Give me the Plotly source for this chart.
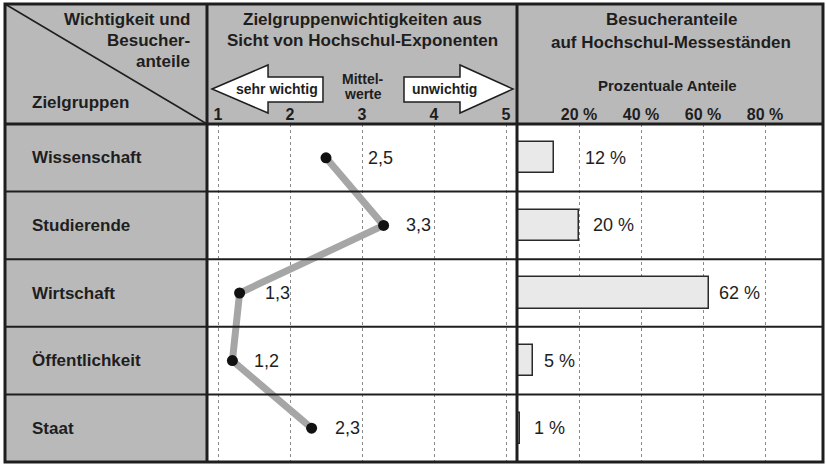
import plotly.graph_objects as go

# data
zielgruppen = ["Wissenschaft", "Studierende", "Wirtschaft", "Öffentlichkeit", "Staat"]
wichtigkeit = [2.5, 3.3, 1.3, 1.2, 2.3]
wichtigkeit_text = ["2,5", "3,3", "1,3", "1,2", "2,3"]
anteile = [12, 20, 62, 5, 1]
anteile_text = ["12 %", "20 %", "62 %", "5 %", "1 %"]
skala_werte = [1, 2, 3, 4, 5]
skala_text = ["1", "2", "3", "4", "5"]
prozent_werte = [20, 40, 60, 80]
prozent_text = ["20 %", "40 %", "60 %", "80 %"]

W, H = 826, 465
FONT = "Liberation Sans, Arial, sans-serif"
INK = "#1e1e1e"
GRAU = "#b9b9b9"

# table geometry in pixels
L, R, T, B = 5, 823, 4, 462
COL1, COL2 = 207, 517
HEAD = 124
ROW_H = (B - HEAD) / len(zielgruppen)


def px(x):
    return x / W


def py(y):
    return 1 - y / H


fig = go.Figure()

# line of mean values
fig.add_trace(go.Scatter(
    x=wichtigkeit, y=zielgruppen, mode="lines+markers",
    line=dict(color="#a6a6a6", width=7),
    marker=dict(color="#111111", size=11),
    xaxis="x", yaxis="y", hoverinfo="skip", showlegend=False,
))

# share bars
fig.add_trace(go.Bar(
    x=anteile, y=zielgruppen, orientation="h", width=0.46,
    marker=dict(color="#e9e9e9", line=dict(color="#2a2a2a", width=1.5)),
    xaxis="x2", yaxis="y2", hoverinfo="skip", showlegend=False,
))

ann = []
# value labels in the middle panel
dx_mid = [40, 20, 23, 20, 21]
for v, g, t, d in zip(wichtigkeit, zielgruppen, wichtigkeit_text, dx_mid):
    ann.append(dict(x=v, y=g, xref="x", yref="y", text=t, showarrow=False,
                    xanchor="left", xshift=d, font=dict(size=18, color=INK)))
# value labels of the bars
dx_bar = [29, 12, 8, 9, 12]
for v, g, t, d in zip(anteile, zielgruppen, anteile_text, dx_bar):
    ann.append(dict(x=v, y=g, xref="x2", yref="y2", text=t, showarrow=False,
                    xanchor="left", xshift=d, font=dict(size=18, color=INK)))
# row labels
for g in zielgruppen:
    ann.append(dict(x=px(30), y=g, xref="paper", yref="y", text="<b>" + g + "</b>",
                    showarrow=False, xanchor="left", font=dict(size=17, color=INK)))


def txt(x, y, s, size=17, anchor="center"):
    ann.append(dict(x=px(x), y=py(y), xref="paper", yref="paper", text=s,
                    showarrow=False, xanchor=anchor, yanchor="middle",
                    font=dict(size=size, color=INK)))


# header texts
txt(192, 20, "<b>Wichtigkeit und</b>", anchor="right")
txt(192, 41, "<b>Besucher-</b>", anchor="right")
txt(192, 62, "<b>anteile</b>", anchor="right")
txt(30, 102, "<b>Zielgruppen</b>", anchor="left")
txt(362, 19, "<b>Zielgruppenwichtigkeiten aus</b>")
txt(362, 41, "<b>Sicht von Hochschul-Exponenten</b>")
txt(363, 79, "<b>Mittel-</b>", size=14)
txt(363, 94, "<b>werte</b>", size=14)
txt(277, 89, "<b>sehr wichtig</b>", size=14)
txt(445, 89, "<b>unwichtig</b>", size=14)
txt(671, 19, "<b>Besucheranteile</b>")
txt(671, 42, "<b>auf Hochschul-Messeständen</b>")
txt(667, 85, "<b>Prozentuale Anteile</b>", size=15)

shapes = []


def rect(x0, y0, x1, y1, fill, layer="below"):
    shapes.append(dict(type="rect", xref="paper", yref="paper",
                       x0=px(x0), y0=py(y0), x1=px(x1), y1=py(y1),
                       fillcolor=fill, line=dict(width=0), layer=layer))


def line(x0, y0, x1, y1, w=2):
    shapes.append(dict(type="line", xref="paper", yref="paper",
                       x0=px(x0), y0=py(y0), x1=px(x1), y1=py(y1),
                       line=dict(color=INK, width=w), layer="above"))


def poly(pts):
    p = "M " + " L ".join("%.4f,%.4f" % (px(a), py(b)) for a, b in pts) + " Z"
    shapes.append(dict(type="path", xref="paper", yref="paper", path=p,
                       fillcolor="white", line=dict(color=INK, width=1.5),
                       layer="above"))


rect(L, T, R, HEAD, GRAU)
rect(L, HEAD, COL1, B, GRAU)
for i in range(1, len(zielgruppen)):
    yy = HEAD + i * ROW_H
    line(L, yy, R, yy, 2)
line(L, HEAD, R, HEAD, 3)
line(COL1, T, COL1, B, 3)
line(COL2, T, COL2, B, 3)
line(L, T, COL1, HEAD, 1.5)
shapes.append(dict(type="rect", xref="paper", yref="paper",
                   x0=px(L), y0=py(T), x1=px(R), y1=py(B),
                   line=dict(color=INK, width=3), layer="above"))

# arrows
poly([(212, 89), (268, 65), (268, 77), (323, 77), (323, 102), (268, 102), (268, 113)])
poly([(404, 77), (460, 77), (460, 65), (513, 89), (460, 113), (460, 102), (404, 102)])

# axis ranges from pixel layout
x_lo = 1 - (218 - COL1) / 72
x_hi = 1 + (COL2 - 218) / 72
p_hi = (R - COL2) / 3.1

grid = dict(showgrid=True, gridcolor="#8a8a8a", griddash="dot", gridwidth=1,
            zeroline=False, showline=False, ticks="", side="top",
            tickfont=dict(size=16, color=INK), fixedrange=True)

fig.update_layout(
    width=W, height=H,
    margin=dict(l=0, r=0, t=0, b=0),
    paper_bgcolor="white", plot_bgcolor="white",
    font=dict(family=FONT, color=INK),
    bargap=0,
    xaxis=dict(domain=[px(COL1), px(COL2)], range=[x_lo, x_hi],
               tickvals=skala_werte, ticktext=["<b>" + s + "</b>" for s in skala_text],
               anchor="y", **grid),
    xaxis2=dict(domain=[px(COL2), px(R)], range=[0, p_hi],
                tickvals=prozent_werte, ticktext=["<b>" + s + "</b>" for s in prozent_text],
                anchor="y2", **grid),
    yaxis=dict(domain=[py(B), py(HEAD)], type="category",
               categoryorder="array", categoryarray=zielgruppen,
               range=[len(zielgruppen) - 0.5, -0.5],
               showgrid=False, showticklabels=False, zeroline=False, fixedrange=True),
    yaxis2=dict(domain=[py(B), py(HEAD)], type="category",
                categoryorder="array", categoryarray=zielgruppen,
                range=[len(zielgruppen) - 0.5, -0.5], anchor="x2",
                showgrid=False, showticklabels=False, zeroline=False, fixedrange=True),
    annotations=ann,
    shapes=shapes,
)

fig.write_html("out.html", config={"displayModeBar": False},
               post_script="document.body.style.margin='0';document.body.style.overflow='hidden';")
